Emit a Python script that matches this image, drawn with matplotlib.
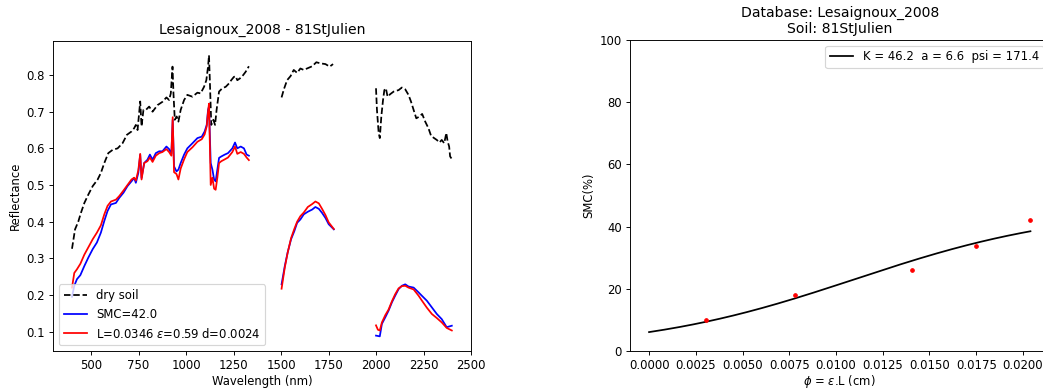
import numpy as np
import matplotlib
matplotlib.use('Agg')
import matplotlib.pyplot as plt

nan = np.nan

# dry soil spectrum (NaN = gaps in water absorption bands)
wl_dry = [400, 416, 433, 447, 465, 486, 509, 535, 552, 570, 591, 614, 640, 666, 689, 713, 727, 736, 745,
          759, 766, 776, 789, 806, 824, 850, 876, 897, 911, 920, 929, 934, 941, 951, 960, 972, 990, 1007,
          1034, 1060, 1077, 1095, 1107, 1116, 1121, 1126, 1133, 1144, 1153, 1161, 1174, 1191, 1209, 1226,
          1238, 1252, 1261, 1270, 1284, 1301, 1314, 1331,
          1400,
          1503, 1515, 1532, 1550, 1567, 1585, 1602, 1620, 1637, 1664, 1686, 1707, 1734, 1756, 1774,
          1900,
          2000, 2005, 2014, 2020, 2028, 2037, 2044, 2052, 2061, 2075, 2093, 2119, 2136, 2154, 2171, 2184,
          2198, 2212, 2229, 2243, 2259, 2276, 2290, 2306, 2320, 2334, 2346, 2359, 2370, 2377, 2385, 2390, 2399]
dry = [0.326, 0.379, 0.40, 0.424, 0.451, 0.474, 0.497, 0.515, 0.533, 0.56, 0.587, 0.596, 0.60, 0.614, 0.637,
       0.646, 0.655, 0.664, 0.65, 0.728, 0.66, 0.705, 0.705, 0.714, 0.70, 0.718, 0.727, 0.739, 0.732, 0.75,
       0.823, 0.75, 0.678, 0.687, 0.673, 0.705, 0.732, 0.746, 0.741, 0.752, 0.75, 0.768, 0.786, 0.823, 0.854,
       0.777, 0.664, 0.678, 0.664, 0.705, 0.755, 0.764, 0.768, 0.777, 0.786, 0.795, 0.797, 0.786, 0.791,
       0.80, 0.809, 0.824,
       nan,
       0.739, 0.761, 0.786, 0.797, 0.814, 0.806, 0.818, 0.814, 0.818, 0.824, 0.835, 0.832, 0.83, 0.823, 0.83,
       nan,
       0.764, 0.705, 0.642, 0.628, 0.687, 0.732, 0.759, 0.764, 0.741, 0.748, 0.755, 0.759, 0.766, 0.761,
       0.746, 0.728, 0.705, 0.682, 0.687, 0.694, 0.673, 0.655, 0.634, 0.628, 0.623, 0.616, 0.623, 0.614,
       0.642, 0.619, 0.605, 0.578, 0.571]

# wet soil measured (SMC=42.0) and model spectrum
wl_wet = [400, 412, 426, 444, 465, 486, 509, 531, 552, 570, 587, 605, 631, 649, 671, 692, 713, 727, 736,
          749, 759, 766, 780, 797, 810, 824, 841, 859, 876, 897, 911, 923, 930, 937, 950, 960, 972, 990,
          1007, 1034, 1060, 1083, 1098, 1109, 1116, 1121, 1130, 1139, 1148, 1156, 1165, 1174, 1186, 1204,
          1221, 1244, 1258, 1270, 1288, 1305, 1319, 1331,
          1400,
          1503, 1520, 1535, 1553, 1570, 1585, 1602, 1620, 1641, 1664, 1681, 1699, 1716, 1734, 1751, 1778,
          1900,
          2000, 2010, 2020, 2031, 2049, 2066, 2084, 2101, 2119, 2136, 2154, 2171, 2198, 2224, 2241, 2268,
          2294, 2320, 2346, 2372, 2399]
smc_meas = [0.195, 0.225, 0.243, 0.254, 0.279, 0.302, 0.325, 0.343, 0.37, 0.402, 0.429, 0.447, 0.451, 0.465,
            0.479, 0.497, 0.51, 0.519, 0.506, 0.533, 0.583, 0.519, 0.56, 0.569, 0.583, 0.569, 0.587, 0.592,
            0.592, 0.605, 0.598, 0.585, 0.678, 0.551, 0.537, 0.542, 0.56, 0.583, 0.60, 0.614, 0.628, 0.632,
            0.646, 0.664, 0.705, 0.714, 0.56, 0.542, 0.515, 0.51, 0.542, 0.574, 0.578, 0.583, 0.587, 0.60,
            0.616, 0.60, 0.605, 0.60, 0.583, 0.58,
            nan,
            0.229, 0.279, 0.316, 0.352, 0.374, 0.397, 0.406, 0.42, 0.427, 0.433, 0.44, 0.435, 0.424, 0.41,
            0.393, 0.379,
            nan,
            0.089, 0.088, 0.087, 0.121, 0.139, 0.157, 0.18, 0.198, 0.216, 0.225, 0.229, 0.223, 0.22, 0.207,
            0.198, 0.184, 0.166, 0.148, 0.134, 0.112, 0.116]
smc_model = [0.22, 0.26, 0.27, 0.285, 0.31, 0.33, 0.352, 0.37, 0.39, 0.42, 0.443, 0.455, 0.46, 0.47, 0.485,
             0.50, 0.515, 0.52, 0.512, 0.54, 0.585, 0.515, 0.56, 0.565, 0.575, 0.563, 0.58, 0.587, 0.59,
             0.598, 0.59, 0.58, 0.685, 0.535, 0.53, 0.515, 0.545, 0.57, 0.59, 0.603, 0.618, 0.625, 0.638,
             0.66, 0.70, 0.722, 0.50, 0.52, 0.49, 0.487, 0.52, 0.56, 0.565, 0.57, 0.575, 0.59, 0.605, 0.585,
             0.59, 0.585, 0.575, 0.568,
             nan,
             0.217, 0.275, 0.315, 0.355, 0.38, 0.40, 0.415, 0.425, 0.44, 0.448, 0.455, 0.45, 0.435, 0.418,
             0.398, 0.38,
             nan,
             0.117, 0.105, 0.103, 0.125, 0.145, 0.16, 0.183, 0.202, 0.218, 0.224, 0.225, 0.22, 0.215, 0.198,
             0.185, 0.165, 0.148, 0.137, 0.125, 0.11, 0.103]

# SMC vs phi
phi_obs = [0.00303, 0.00778, 0.01404, 0.0175, 0.0204]
smc_obs = [10.0, 17.9, 26.0, 33.8, 42.0]
K, a, psi = 46.2, 6.6, 171.4

DPI = 84
fig = plt.figure(figsize=(1043 / DPI, 391 / DPI), dpi=DPI)

ax1 = fig.add_axes([53 / 1043, 40 / 391, 418 / 1043, 310 / 391])
ax1.plot(wl_dry, dry, 'k--', label='dry soil')
ax1.plot(wl_wet, smc_meas, 'b-', label='SMC=42.0')
ax1.plot(wl_wet, smc_model, 'r-', label=r'L=0.0346 $\epsilon$=0.59 d=0.0024')
ax1.set_xlim(300, 2500)
ax1.set_ylim(0.047, 0.893)
ax1.set_xlabel('Wavelength (nm)', labelpad=2)
ax1.set_ylabel('Reflectance')
ax1.set_title('Lesaignoux_2008 - 81StJulien')
ax1.legend(loc='lower left')

ax2 = fig.add_axes([630 / 1043, 40 / 391, 419.5 / 1043, 311 / 391])
phi = np.linspace(0, max(phi_obs), 200)
ax2.plot(phi, K / (1 + a * np.exp(-psi * phi)), 'k-',
         label='K = %.1f  a = %.1f  psi = %.1f' % (K, a, psi))
ax2.plot(phi_obs, smc_obs, 'r.')
ax2.set_xlim(-0.00102, 0.02142)
ax2.set_ylim(0, 100)
ax2.set_xlabel(r'$\phi$ = $\epsilon$.L (cm)', labelpad=1)
ax2.set_ylabel('SMC(%)')
ax2.set_title('Database: Lesaignoux_2008\nSoil: 81StJulien')
ax2.legend(loc='upper right')

fig.savefig('out.png', dpi=DPI)
